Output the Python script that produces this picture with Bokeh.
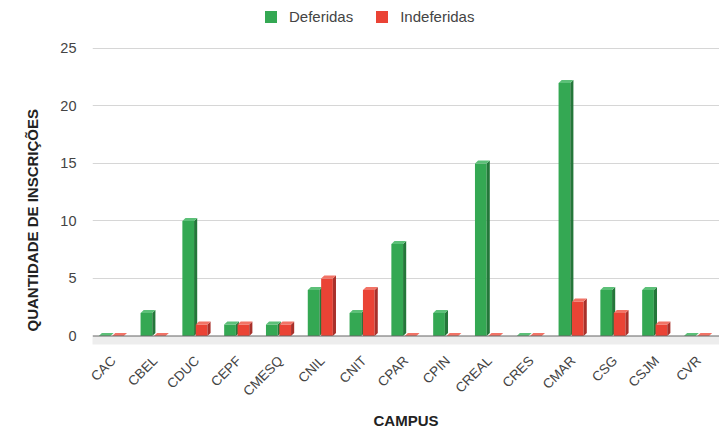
import math
from bokeh.plotting import figure
from bokeh.models import FixedTicker, Legend, LegendItem, Span, Title
from bokeh.embed import file_html
from bokeh.resources import INLINE

categories = ["CAC", "CBEL", "CDUC", "CEPF", "CMESQ", "CNIL", "CNIT", "CPAR",
              "CPIN", "CREAL", "CRES", "CMAR", "CSG", "CSJM", "CVR"]
deferidas = [0, 2, 10, 1, 1, 4, 2, 8, 2, 15, 0, 22, 4, 4, 0]
indeferidas = [0, 0, 1, 1, 1, 5, 4, 0, 0, 0, 0, 3, 2, 1, 0]
y_ticks = [0, 5, 10, 15, 20, 25]

FONT = "Liberation Sans"
DX = 0.075   # depth offset (x, data units)
DY = 0.26    # depth offset (y, data units)

p = figure(width=719, height=432, x_range=(-0.5, len(categories) - 0.5),
           y_range=(-1.0, 29.17), output_backend="svg", toolbar_location=None,
           min_border_top=0, min_border_right=0, min_border_left=92,
           min_border_bottom=40)
p.outline_line_color = None
p.background_fill_color = "white"
p.xgrid.visible = False
p.ygrid.ticker = FixedTicker(ticks=y_ticks[1:])
p.ygrid.grid_line_color = "#d6d6d6"
p.ygrid.grid_line_width = 1

# floor shadow and baseline
n = len(categories)
p.patch([-0.5 + 0.02, n - 0.5, n - 0.5, -0.5 - 0.15], [0, 0, -0.75, -0.75],
        fill_color="#ededed", line_color=None)
p.add_layout(Span(location=0, dimension="width", line_color="#666666", line_width=1.2))


def bar3d(values, off0, off1, front, side, top):
    side_xs, side_ys, top_xs, top_ys = [], [], [], []
    lefts, rights = [], []
    for i, v in enumerate(values):
        x0, x1 = i + off0, i + off1
        lefts.append(x0)
        rights.append(x1)
        side_xs.append([x1, x1 + DX, x1 + DX, x1])
        side_ys.append([0, DY, v + DY, v])
        top_xs.append([x0, x1, x1 + DX, x0 + DX])
        top_ys.append([v, v, v + DY, v + DY])
    q = p.quad(left=lefts, right=rights, bottom=0, top=values,
               fill_color=front, line_color=None)
    p.patches(side_xs, side_ys, fill_color=side, line_color=None)
    p.patches(top_xs, top_ys, fill_color=top, line_color=None)
    return q


g = bar3d(deferidas, -0.35, -0.07, "#34a853", "#24773a", "#5cc078")
r = bar3d(indeferidas, -0.03, 0.25, "#ea4335", "#a8302a", "#f27366")

legend = Legend(items=[LegendItem(label="Deferidas", renderers=[g]),
                       LegendItem(label="Indeferidas", renderers=[r])],
                orientation="horizontal", location=(171, 322),
                glyph_width=15, glyph_height=15, label_height=15,
                label_standoff=11, spacing=21, padding=0, margin=0,
                border_line_color=None, background_fill_alpha=0,
                label_text_font_size="15px", label_text_color="#444444",
                label_text_font=FONT)
p.add_layout(legend)

# axes
p.xaxis.ticker = FixedTicker(ticks=list(range(n)))
p.xaxis.major_label_overrides = {i: c for i, c in enumerate(categories)}
p.xaxis.major_label_orientation = math.pi / 4
p.xaxis.axis_line_color = None
p.xaxis.major_tick_line_color = None
p.xaxis.minor_tick_line_color = None
p.xaxis.major_label_standoff = 5
p.xaxis.major_label_text_font = FONT
p.xaxis.major_label_text_font_size = "13.5px"
p.xaxis.major_label_text_color = "#444444"
p.xaxis.axis_label = "CAMPUS"
p.xaxis.axis_label_text_font = FONT
p.xaxis.axis_label_text_font_style = "bold"
p.xaxis.axis_label_text_font_size = "15px"
p.xaxis.axis_label_text_color = "#222222"
p.xaxis.axis_label_standoff = 5

p.yaxis.ticker = FixedTicker(ticks=y_ticks)
p.yaxis.axis_line_color = None
p.yaxis.major_tick_line_color = None
p.yaxis.minor_tick_line_color = None
p.yaxis.major_label_standoff = 10
p.yaxis.major_label_text_font = FONT
p.yaxis.major_label_text_font_size = "14.5px"
p.yaxis.major_label_text_color = "#444444"

# y-axis title as a side title so it can sit lower, like the reference
p.add_layout(Title(text="QUANTIDADE DE INSCRIÇÕES", align="left", offset=16,
                   standoff=30, vertical_align="top", text_font=FONT,
                   text_font_style="bold", text_font_size="15px",
                   text_color="#222222"), "left")

open("out.html", "w").write(file_html(p, INLINE))
